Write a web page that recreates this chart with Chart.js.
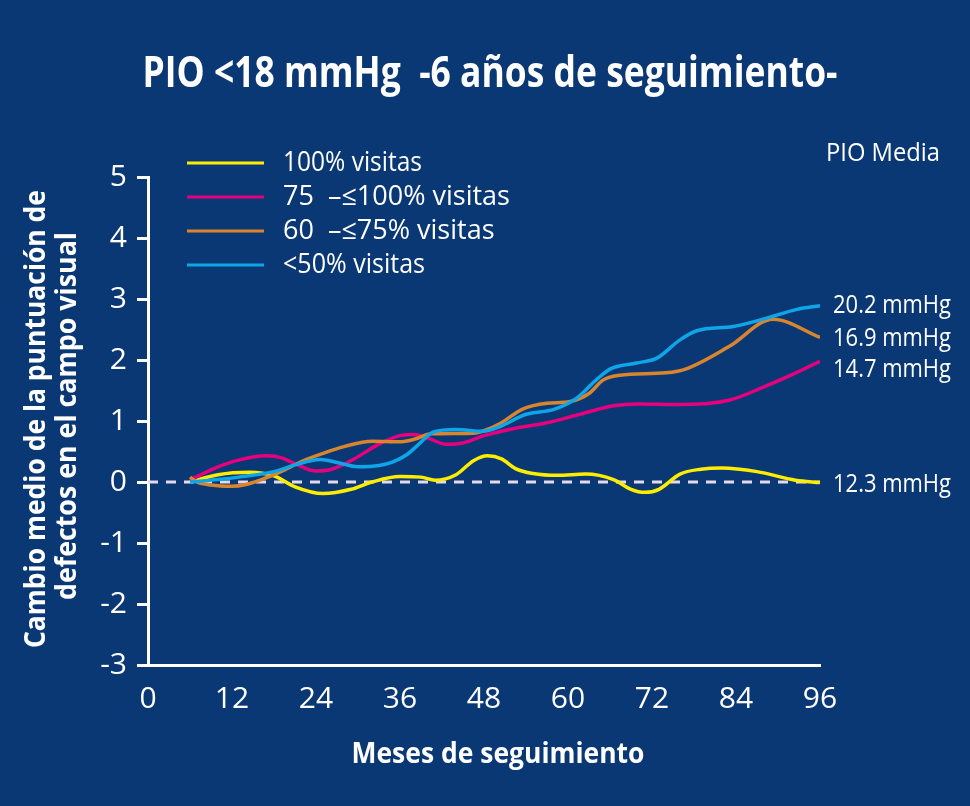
<!DOCTYPE html>
<html>
<head>
<meta charset="utf-8">
<script src="https://cdn.jsdelivr.net/npm/chart.js@4.4.1/dist/chart.umd.min.js"></script>
<style>
  html, body { margin: 0; padding: 0; background: #0a3875; }
  #wrap { width: 970px; height: 806px; }
</style>
</head>
<body>
<div id="wrap"><canvas id="chart" width="970" height="806"></canvas></div>
<script>
// values
const yellowMonths = [6, 10, 14.5, 18, 21, 25, 29, 32, 36, 39, 41, 44, 46.5, 48.5, 50.5, 52.5, 55, 58.5, 62.5, 66.5, 69, 71, 73, 76, 79, 82, 87, 92.5, 96];
const yellowValues = [0, 0.12, 0.16, 0.1, -0.08, -0.19, -0.12, 0.0, 0.09, 0.08, 0.03, 0.12, 0.35, 0.43, 0.38, 0.22, 0.14, 0.11, 0.13, 0.04, -0.12, -0.17, -0.12, 0.13, 0.21, 0.23, 0.17, 0.03, -0.01];

const magentaMonths = [6, 9, 12, 15, 17, 19, 21, 24, 26, 29, 33, 36, 38, 40, 42.5, 45, 48, 52, 57, 62, 66.5, 70, 76, 83, 88, 92, 96];
const magentaValues = [0.03, 0.2, 0.33, 0.41, 0.43, 0.4, 0.3, 0.18, 0.2, 0.35, 0.62, 0.76, 0.78, 0.72, 0.62, 0.64, 0.76, 0.87, 0.97, 1.12, 1.25, 1.28, 1.27, 1.34, 1.56, 1.76, 1.98];

const orangeMonths = [6, 7, 9, 12, 14, 16, 19, 22, 25, 28, 32, 36, 38, 40.5, 46.5, 48, 50.3, 53.6, 57, 60.3, 63, 65, 67.4, 74, 77, 83, 89.3, 96];
const orangeValues = [0.08, 0.0, -0.05, -0.07, -0.04, 0.03, 0.17, 0.34, 0.47, 0.58, 0.67, 0.66, 0.7, 0.79, 0.8, 0.84, 0.96, 1.2, 1.29, 1.32, 1.45, 1.67, 1.75, 1.79, 1.86, 2.22, 2.67, 2.37];

const blueMonths = [6, 10, 13, 18, 21, 24.6, 27, 30, 33, 35, 37, 38.5, 40.8, 44, 47.9, 50.3, 54, 58, 61.2, 64, 66, 69.8, 72.7, 76, 78.4, 83.6, 87.9, 92.7, 96];
const blueValues = [0, 0.04, 0.08, 0.17, 0.28, 0.37, 0.32, 0.25, 0.27, 0.33, 0.45, 0.6, 0.82, 0.86, 0.83, 0.91, 1.11, 1.19, 1.37, 1.67, 1.85, 1.95, 2.03, 2.33, 2.48, 2.55, 2.67, 2.83, 2.89];

const baselineMonths = [0, 96];
const baselineValues = [0, 0];

const seriesLabels = ['100% visitas', '75  \u2013\u2264100% visitas', '60  \u2013\u226475% visitas', '<50% visitas'];
const seriesColors = ['#ffed00', '#e6007e', '#d9852e', '#0ea6e8'];
const pioLabels = ['12.3 mmHg', '14.7 mmHg', '16.9 mmHg', '20.2 mmHg'];

const xTicks = [0, 12, 24, 36, 48, 60, 72, 84, 96];

const FONT = '"Open Sans", "Noto Sans", sans-serif';

function zip(xs, ys) {
  return xs.map((x, i) => ({ x: x, y: ys[i] }));
}

const monthSets = [yellowMonths, magentaMonths, orangeMonths, blueMonths];
const valueSets = [yellowValues, magentaValues, orangeValues, blueValues];

const datasets = seriesLabels.map((label, i) => ({
  label: label,
  data: zip(monthSets[i], valueSets[i]),
  borderColor: seriesColors[i],
  borderWidth: 3.5,
  pointRadius: 0,
  fill: false,
  cubicInterpolationMode: 'monotone'
}));
// draw order: blue on top, then orange, magenta, yellow
datasets[3].order = 1;
datasets[2].order = 2;
datasets[1].order = 3;
datasets[0].order = 4;

datasets.push({
  label: 'base',
  data: zip(baselineMonths, baselineValues),
  borderColor: '#e6d9ec',
  borderWidth: 3,
  borderDash: [10, 8],
  pointRadius: 0,
  order: 10
});

// texts that sit around the plot
function put(ctx, text, x, y, font, align, maxW) {
  ctx.font = font;
  ctx.textAlign = align;
  ctx.textBaseline = 'middle';
  ctx.fillStyle = '#ffffff';
  if (maxW) ctx.fillText(text, x, y, maxW);
  else ctx.fillText(text, x, y);
}

const textPlugin = {
  id: 'texts',
  beforeDraw(chart) {
    const ctx = chart.ctx;
    ctx.save();
    ctx.fillStyle = '#0a3875';
    ctx.fillRect(0, 0, chart.width, chart.height);
    ctx.restore();
  },
  afterDraw(chart) {
    const ctx = chart.ctx;
    ctx.save();

    put(ctx, 'PIO <18 mmHg  -6 a\u00f1os de seguimiento-', 490, 75, 'bold 43px ' + FONT, 'center', 695);

    // legend
    const legendY = [163, 197, 231, 265];
    seriesLabels.forEach((label, i) => {
      ctx.strokeStyle = seriesColors[i];
      ctx.lineWidth = 3;
      ctx.beginPath();
      ctx.moveTo(187, legendY[i]);
      ctx.lineTo(264, legendY[i]);
      ctx.stroke();
    });
    const legendW = [139, 227, 214, 142];
    seriesLabels.forEach((label, i) => {
      put(ctx, label, 283, legendY[i], '27px ' + FONT, 'left', legendW[i]);
    });

    put(ctx, 'PIO Media', 826, 154, '26px ' + FONT, 'left', 114);
    const pioY = [485, 370, 339, 306];
    pioLabels.forEach((t, i) => put(ctx, t, 833, pioY[i], '26px ' + FONT, 'left', 118));

    put(ctx, 'Meses de seguimiento', 498, 755, 'bold 28px ' + FONT, 'center', 293);

    ctx.save();
    ctx.translate(37, 419);
    ctx.rotate(-Math.PI / 2);
    put(ctx, 'Cambio medio de la puntuaci\u00f3n de', 0, 0, 'bold 29px ' + FONT, 'center', 458);
    ctx.restore();
    ctx.save();
    ctx.translate(68, 416);
    ctx.rotate(-Math.PI / 2);
    put(ctx, 'defectos en el campo visual', 0, 0, 'bold 29px ' + FONT, 'center', 368);
    ctx.restore();

    ctx.restore();
  }
};

new Chart(document.getElementById('chart'), {
  type: 'line',
  data: { datasets: datasets },
  options: {
    responsive: false,
    animation: false,
    layout: { padding: { left: 0, right: 150, top: 177, bottom: 41 } },
    plugins: { legend: { display: false }, tooltip: { enabled: false } },
    scales: {
      x: {
        type: 'linear',
        min: 0,
        max: 96,
        afterBuildTicks: s => { s.ticks = xTicks.map(v => ({ value: v })); },
        afterFit: s => { s.height = 100; },
        grid: { display: false, drawTicks: false },
        border: { display: true, color: '#ffffff', width: 3 },
        ticks: { color: '#ffffff', font: { family: FONT, size: 30 }, padding: 16, maxRotation: 0 }
      },
      y: {
        min: -3,
        max: 5,
        afterFit: s => { s.width = 148; },
        grid: { drawOnChartArea: false, drawTicks: true, tickLength: 11, color: '#ffffff', lineWidth: 3 },
        border: { display: true, color: '#ffffff', width: 3 },
        ticks: { stepSize: 1, color: '#ffffff', font: { family: FONT, size: 30 }, padding: 10 }
      }
    }
  },
  plugins: [textPlugin]
});
</script>
</body>
</html>
